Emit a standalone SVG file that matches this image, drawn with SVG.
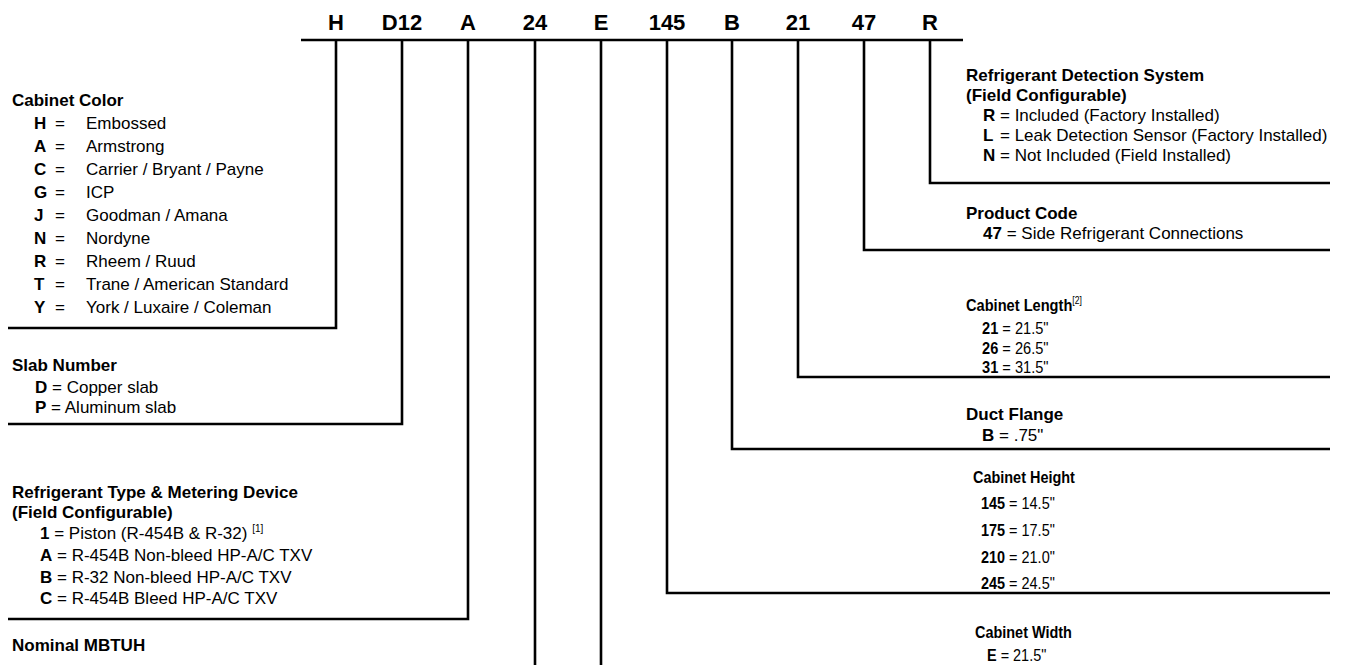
<svg xmlns="http://www.w3.org/2000/svg" width="1352" height="665" viewBox="0 0 1352 665">
<style>
text{font-family:"Liberation Sans",Arial,sans-serif;font-size:17px;fill:#000}
.hd{font-size:22px;font-weight:bold;text-anchor:middle}
.t{font-weight:bold}
.b{font-weight:bold}
.sup{font-size:10px;font-weight:normal}
.ln{fill:none;stroke:#000;stroke-width:2.6}
</style>
<rect width="1352" height="665" fill="#fff"/>
<g id="header">
<text class="hd" x="336" y="30">H</text>
<text class="hd" x="402" y="30">D12</text>
<text class="hd" x="468" y="30">A</text>
<text class="hd" x="535" y="30">24</text>
<text class="hd" x="601" y="30">E</text>
<text class="hd" x="667" y="30">145</text>
<text class="hd" x="732" y="30">B</text>
<text class="hd" x="798" y="30">21</text>
<text class="hd" x="864" y="30">47</text>
<text class="hd" x="930" y="30">R</text>
</g>
<g id="connectors">
<path class="ln" d="M301,40 H963"/>
<path class="ln" d="M336,40 V328 H8"/>
<path class="ln" d="M402,40 V424 H8"/>
<path class="ln" d="M468,40 V619 H8"/>
<path class="ln" d="M535,40 V665"/>
<path class="ln" d="M601,40 V665"/>
<path class="ln" d="M667,40 V593 H1330"/>
<path class="ln" d="M732,40 V449 H1330"/>
<path class="ln" d="M798,40 V377 H1330"/>
<path class="ln" d="M864,40 V250 H1330"/>
<path class="ln" d="M930,40 V183 H1330"/>
</g>
<g id="cabinet-color">
<text class="t" x="12" y="106">Cabinet Color</text>
<g class="b"><text x="34" y="129">H</text><text x="34" y="152">A</text><text x="34" y="175">C</text><text x="34" y="198">G</text><text x="34" y="221">J</text><text x="34" y="244">N</text><text x="34" y="267">R</text><text x="34" y="290">T</text><text x="34" y="313">Y</text></g>
<text x="55" y="129">=</text><text x="55" y="152">=</text><text x="55" y="175">=</text><text x="55" y="198">=</text><text x="55" y="221">=</text><text x="55" y="244">=</text><text x="55" y="267">=</text><text x="55" y="290">=</text><text x="55" y="313">=</text>
<text x="86" y="129">Embossed</text>
<text x="86" y="152">Armstrong</text>
<text x="86" y="175">Carrier / Bryant / Payne</text>
<text x="86" y="198">ICP</text>
<text x="86" y="221">Goodman / Amana</text>
<text x="86" y="244">Nordyne</text>
<text x="86" y="267">Rheem / Ruud</text>
<text x="86" y="290">Trane / American Standard</text>
<text x="86" y="313">York / Luxaire / Coleman</text>
</g>
<g id="slab-number">
<text class="t" x="12" y="371">Slab Number</text>
<text x="35" y="393"><tspan class="b">D</tspan> = Copper slab</text>
<text x="35" y="413"><tspan class="b">P</tspan> = Aluminum slab</text>
</g>
<g id="refrigerant-type">
<text class="t" x="12" y="498">Refrigerant Type &amp; Metering Device</text>
<text class="t" x="12" y="518">(Field Configurable)</text>
<text x="40" y="539"><tspan class="b">1</tspan> = Piston (R-454B &amp; R-32) <tspan class="sup" dy="-7">[1]</tspan></text>
<text x="40" y="561"><tspan class="b">A</tspan> = R-454B Non-bleed HP-A/C TXV</text>
<text x="40" y="583"><tspan class="b">B</tspan> = R-32 Non-bleed HP-A/C TXV</text>
<text x="40" y="604"><tspan class="b">C</tspan> = R-454B Bleed HP-A/C TXV</text>
</g>
<g id="nominal-mbtuh">
<text class="t" x="12" y="651">Nominal MBTUH</text>
</g>
<g id="refrigerant-detection">
<text class="t" x="966" y="81">Refrigerant Detection System</text>
<text class="t" x="966" y="101">(Field Configurable)</text>
<text class="b" x="983" y="121">R</text><text x="1000" y="121">= Included (Factory Installed)</text>
<text class="b" x="983" y="141">L</text><text x="1000" y="141">= Leak Detection Sensor (Factory Installed)</text>
<text class="b" x="983" y="161">N</text><text x="1000" y="161">= Not Included (Field Installed)</text>
</g>
<g id="product-code">
<text class="t" x="966" y="219">Product Code</text>
<text x="983" y="239"><tspan class="b">47</tspan> = Side Refrigerant Connections</text>
</g>
<g id="cabinet-length">
<text class="t" transform="matrix(0.86 0 0 1 966 311)">Cabinet Length<tspan class="sup" dy="-7">[2]</tspan></text>
<text transform="matrix(0.86 0 0 1 982 334)"><tspan class="b">21</tspan> = 21.5"</text>
<text transform="matrix(0.86 0 0 1 982 354)"><tspan class="b">26</tspan> = 26.5"</text>
<text transform="matrix(0.86 0 0 1 982 373)"><tspan class="b">31</tspan> = 31.5"</text>
</g>
<g id="duct-flange">
<text class="t" x="966" y="420">Duct Flange</text>
<text x="982" y="441"><tspan class="b">B</tspan> = .75"</text>
</g>
<g id="cabinet-height">
<text class="t" transform="matrix(0.85 0 0 1 973 483)">Cabinet Height</text>
<text transform="matrix(0.85 0 0 1 981 509)"><tspan class="b">145</tspan> = 14.5"</text>
<text transform="matrix(0.85 0 0 1 981 536)"><tspan class="b">175</tspan> = 17.5"</text>
<text transform="matrix(0.85 0 0 1 981 563)"><tspan class="b">210</tspan> = 21.0"</text>
<text transform="matrix(0.85 0 0 1 981 589)"><tspan class="b">245</tspan> = 24.5"</text>
</g>
<g id="cabinet-width">
<text class="t" transform="matrix(0.85 0 0 1 975 638)">Cabinet Width</text>
<text transform="matrix(0.85 0 0 1 987 661)"><tspan class="b">E</tspan> = 21.5"</text>
</g>
</svg>
